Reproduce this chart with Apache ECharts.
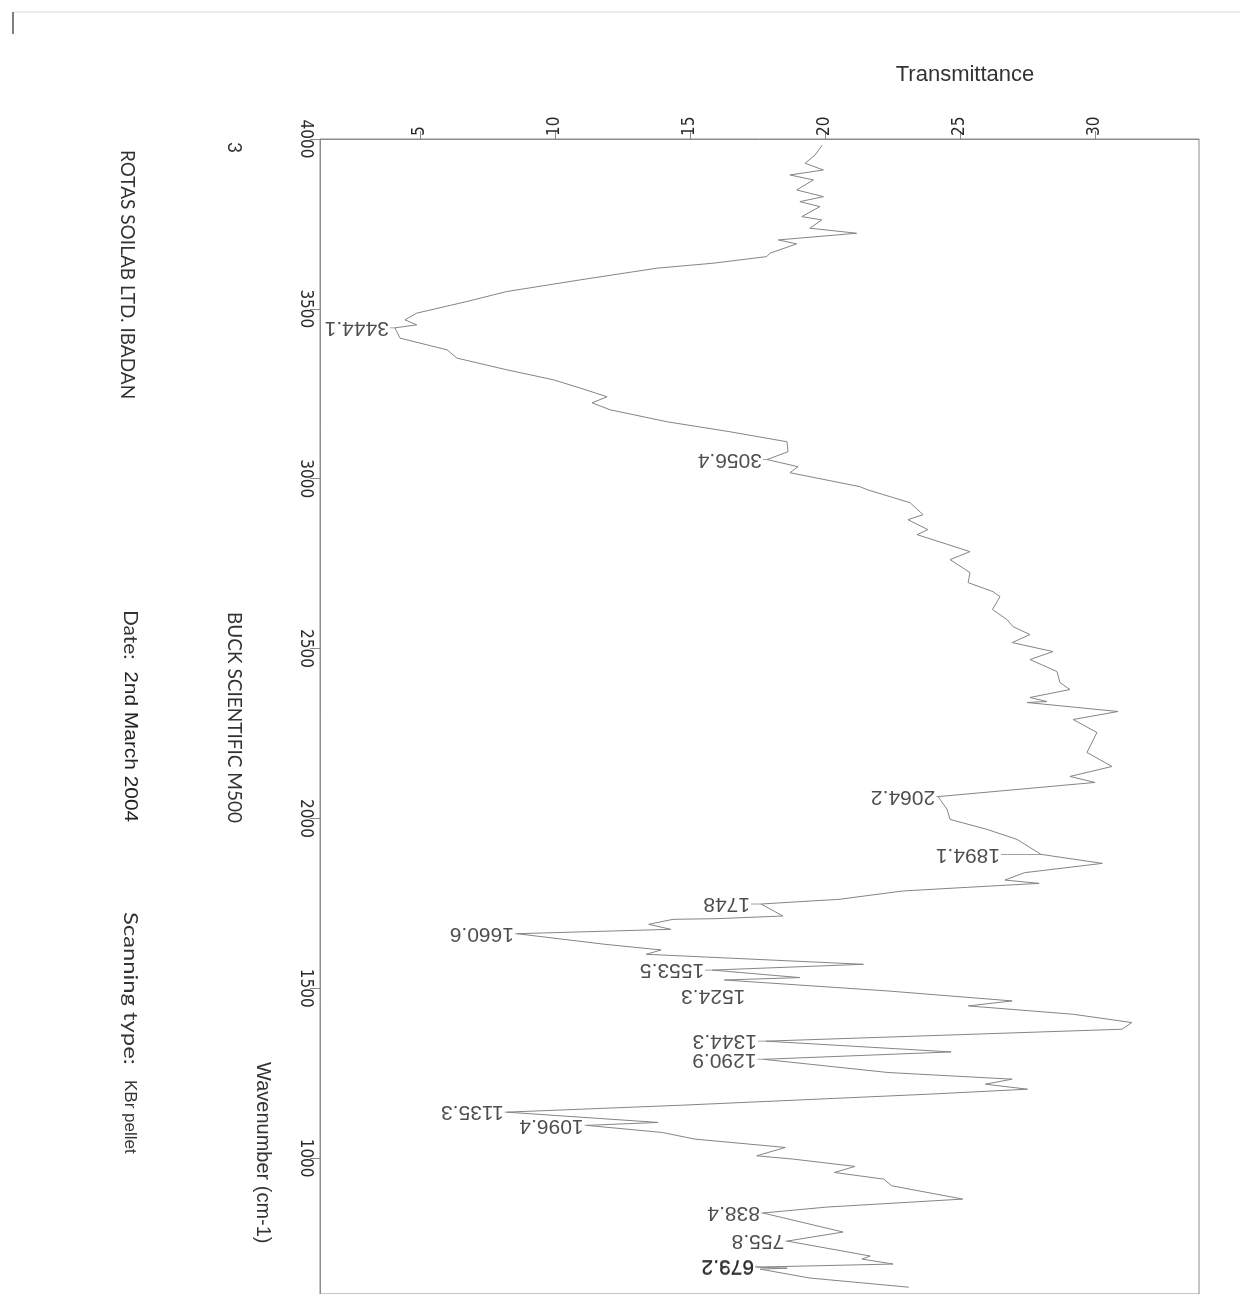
<!DOCTYPE html>
<html>
<head>
<meta charset="utf-8">
<script src="https://cdn.jsdelivr.net/npm/echarts@6/dist/echarts.min.js"></script>
<style>
html,body{margin:0;padding:0;background:#fff;}
#chart{width:1245px;height:1294px;}
</style>
</head>
<body>
<div id="chart"></div>
<script>
// ---- data (wavenumber cm-1, transmittance) ----
const wavenumbers = [3982,3972.6,3952.9,3928.5,3908.8,3894.1,3879.4,3850,3830.3,3815.6,3800.9,3771.5,3761.8,3737.4,3722.6,3702.9,3691.2,3663.8,3653.8,3634.4,3619.7,3585.3,3550.9,3521.5,3487.4,3467.6,3452.9,3444.1,3413.8,3379.4,3355,3320.6,3291.2,3266.8,3241.2,3223.5,3202.9,3167.6,3138.2,3108.8,3079.4,3056.4,3035.3,3017.6,2976.5,2967.6,2929.4,2894.1,2879.4,2850,2835.3,2785.3,2761.8,2723.5,2694.1,2667.6,2652.9,2615,2585.3,2564.7,2541.2,2517.6,2491.2,2467.6,2432.4,2400,2379.4,2355.9,2344.1,2341.2,2314.7,2291.2,2252.9,2194.1,2152.9,2123.5,2105.9,2064.2,2026.5,1997.1,1967.6,1938.2,1894.1,1867.6,1840.3,1818.5,1808.8,1796.1,1786.3,1761.8,1755,1748,1712.7,1704.9,1702.9,1688.2,1673.5,1660.6,1629.4,1612.7,1600,1570.6,1553.5,1531.4,1524.3,1492,1462.7,1448,1423.5,1399,1379.4,1344.3,1312.6,1290.9,1252,1232.4,1217.6,1202.9,1188.2,1155.9,1135.3,1105,1096.4,1075.5,1055.9,1031.4,1006.8,997,975.6,957.8,938.2,918.6,879.4,855.9,838.4,782.4,755.8,711.8,702.9,688.2,679.2,676,673.2,647,620];
const transmittance = [19.9,19.81,19.63,19.26,19.94,18.7,19.57,18.95,19.94,19.07,19.81,19.14,19.88,19.44,21.17,18.27,18.95,17.96,17.84,15.86,13.77,10.93,8.21,6.73,4.88,4.44,4.88,4.07,4.26,6.0,6.37,8.21,9.94,10.93,11.93,11.37,12.04,14.15,16.48,18.59,18.63,17.85,19.0,18.7,21.3,21.56,23.15,23.63,23.07,23.81,23.41,25.37,24.63,25.37,25.3,26.22,26.48,26.2,26.74,26.96,27.59,26.93,28.44,27.59,28.59,28.7,29.07,27.59,28.22,27.48,30.85,29.19,30.07,29.7,30.63,29.07,30.0,24.19,24.52,24.63,26.0,27.11,28.0,30.27,27.39,26.66,27.93,25.04,22.87,20.52,19.07,17.63,18.44,16.0,14.37,13.47,14.29,8.59,11.85,13.93,13.38,21.42,15.82,19.07,16.27,22.33,26.93,25.31,29.19,31.36,31.0,17.81,24.67,17.72,22.33,26.93,25.94,27.5,23.84,14.73,8.21,13.82,11.17,13.97,15.19,18.53,17.47,18.83,21.11,20.35,22.17,22.47,25.1,20.07,17.7,20.67,18.6,21.67,21.37,22.52,17.48,18.6,17.6,19.44,23.1];
const peakWavenumbers = [3444.1,3056.4,2064.2,1894.1,1748,1660.6,1553.5,1524.3,1344.3,1290.9,1135.3,1096.4,838.4,755.8,679.2,673.2];
const transTicks = [5,10,15,20,25,30];
const waveTicks = [4000,3500,3000,2500,2000,1500,1000];

// ---- styles for the peak labels (leader length px, label shift in rotated frame) ----
const leaderLen = [5,4,2,40,10,2,7,0,8,6,2,2,2,2,2,2];
const labelShift = [[0,0],[0,0],[0,0],[0,0],[0,0],[0,0],[0,0],[-22,-16],[0,0],[0,0],[0,0],[0,0],[0,0],[0,0],[0,0],[3,3]];

const lineData = wavenumbers.map((w,i)=>[transmittance[i], w]);
const peakData = peakWavenumbers.map((w,i)=>{
  const idx = wavenumbers.indexOf(w);
  const len = leaderLen[i];
  return {
    value:[transmittance[idx], w],
    label:{
      offset: labelShift[i],
      formatter: (len>0?'{ln|}':'') + '{t|' + String(w) + '}',
      rich:{
        ln:{width:len, height:1, backgroundColor:'#8a8a8a'},
        t:{fontSize:21, fontFamily:'Liberation Sans, Arial, sans-serif', color:'#222', padding:[0,0,0,1]}
      }
    }
  };
});

const chart = echarts.init(document.getElementById('chart'), null, {renderer:'canvas'});
const narrow = "'Liberation Sans Narrow', 'DejaVu Sans Condensed', 'Liberation Sans', sans-serif";
const gothic = "'Lato', 'Open Sans', 'DejaVu Sans', sans-serif";
chart.setOption({
  animation:false,
  backgroundColor:'#ffffff',
  grid:{left:320, top:139, width:879, height:1159, show:true, borderColor:'#8c8c8c', borderWidth:1, backgroundColor:'transparent'},
  xAxis:{
    type:'value', position:'top', min:1.296, max:33.85,
    axisLine:{show:true, lineStyle:{color:'#8c8c8c', width:1}},
    axisTick:{show:true, customValues:transTicks, length:8, lineStyle:{color:'#8c8c8c'}},
    axisLabel:{show:true, customValues:transTicks, rotate:-90, margin:3, fontSize:17, fontFamily:narrow, color:'#2a2a2a', formatter:(v)=>String(v)},
    splitLine:{show:false}
  },
  yAxis:{
    type:'value', min:600, max:4000,
    axisLine:{show:true, lineStyle:{color:'#8c8c8c', width:1}},
    axisTick:{show:true, customValues:waveTicks, length:10, lineStyle:{color:'#8c8c8c'}},
    axisLabel:{show:true, customValues:waveTicks, rotate:-90, margin:6, fontSize:17, fontFamily:narrow, color:'#2a2a2a', formatter:(v)=>String(v)},
    splitLine:{show:false}
  },
  series:[
    {type:'line', data:lineData, showSymbol:false, symbol:'none', smooth:false,
     lineStyle:{color:'#858585', width:1}, silent:true, z:2},
    {type:'scatter', data:peakData, symbolSize:0, silent:true, z:3,
     label:{show:true, position:'left', distance:0, rotate:180, align:'left', verticalAlign:'middle'}}
  ],
  graphic:[
    {type:'line', shape:{x1:14,y1:12,x2:1240,y2:12}, style:{stroke:'#d8d8d8', lineWidth:1}},
    {type:'line', shape:{x1:13,y1:12,x2:13,y2:34}, style:{stroke:'#555', lineWidth:1.5}},
    {type:'text', x:965, y:75, style:{text:'Transmittance', font:"22px 'Liberation Sans', Arial, sans-serif", fill:'#333', align:'center', verticalAlign:'middle'}},
    {type:'text', x:127, y:150, rotation:-Math.PI/2, style:{text:'ROTAS SOILAB LTD. IBADAN', font:"19px "+gothic, fill:'#333', align:'left', verticalAlign:'middle'}},
    {type:'text', x:234, y:142, rotation:-Math.PI/2, style:{text:'3', font:"19px "+gothic, fill:'#333', align:'left', verticalAlign:'middle'}},
    {type:'text', x:234, y:612, rotation:-Math.PI/2, style:{text:'BUCK SCIENTIFIC M500', font:"19px "+gothic, fill:'#333', align:'left', verticalAlign:'middle'}},
    {type:'text', x:130, y:610, rotation:-Math.PI/2, scaleX:1.1, style:{text:'{a|Date:}{b|  2nd March 2004}', align:'left', verticalAlign:'middle',
      rich:{a:{font:"19px "+gothic, fill:'#333'}, b:{font:"19px 'Liberation Sans', Arial, sans-serif", fill:'#222'}}}},
    {type:'text', x:130, y:912, rotation:-Math.PI/2, scaleX:1.19, style:{text:'Scanning type:', font:"20px "+gothic, fill:'#333', align:'left', verticalAlign:'middle'}},
    {type:'text', x:130, y:1080, rotation:-Math.PI/2, style:{text:'KBr pellet', font:"17px 'Liberation Sans', Arial, sans-serif", fill:'#333', align:'left', verticalAlign:'middle'}},
    {type:'text', x:263, y:1062, rotation:-Math.PI/2, style:{text:'Wavenumber (cm-1)', font:"20px 'Liberation Sans', Arial, sans-serif", fill:'#333', align:'left', verticalAlign:'middle'}}
  ]
});
</script>
</body>
</html>
